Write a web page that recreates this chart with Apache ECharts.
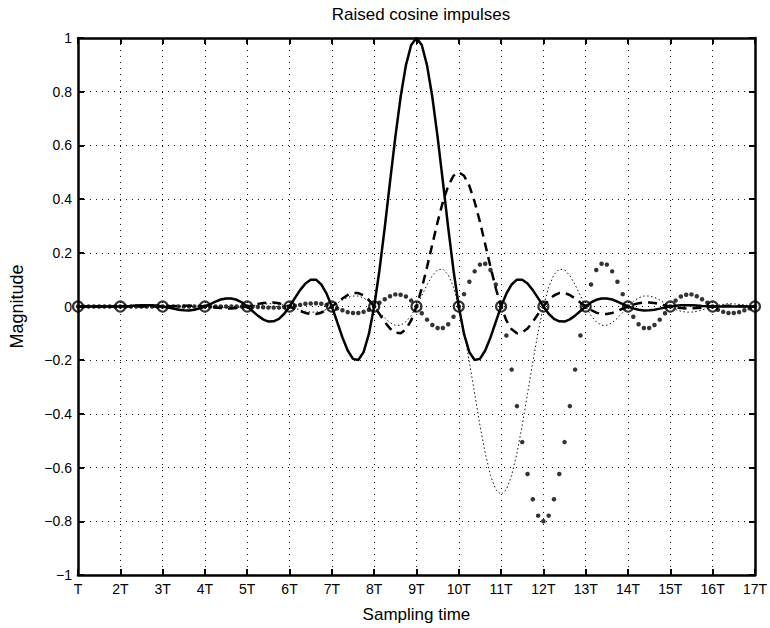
<!DOCTYPE html>
<html>
<head>
<meta charset="utf-8">
<script src="https://cdn.jsdelivr.net/npm/echarts@6/dist/echarts.min.js"></script>
<style>
html,body{margin:0;padding:0;background:#fff;}
#chart{width:770px;height:628px;}
</style>
</head>
<body>
<div id="chart"></div>
<script>
// Sampling instants (in units of T), 8 samples per symbol period
const sampleTimes = [
  1,1.125,1.25,1.375,1.5,1.625,1.75,1.875,
  2,2.125,2.25,2.375,2.5,2.625,2.75,2.875,
  3,3.125,3.25,3.375,3.5,3.625,3.75,3.875,
  4,4.125,4.25,4.375,4.5,4.625,4.75,4.875,
  5,5.125,5.25,5.375,5.5,5.625,5.75,5.875,
  6,6.125,6.25,6.375,6.5,6.625,6.75,6.875,
  7,7.125,7.25,7.375,7.5,7.625,7.75,7.875,
  8,8.125,8.25,8.375,8.5,8.625,8.75,8.875,
  9,9.125,9.25,9.375,9.5,9.625,9.75,9.875,
  10,10.125,10.25,10.375,10.5,10.625,10.75,10.875,
  11,11.125,11.25,11.375,11.5,11.625,11.75,11.875,
  12,12.125,12.25,12.375,12.5,12.625,12.75,12.875,
  13,13.125,13.25,13.375,13.5,13.625,13.75,13.875,
  14,14.125,14.25,14.375,14.5,14.625,14.75,14.875,
  15,15.125,15.25,15.375,15.5,15.625,15.75,15.875,
  16,16.125,16.25,16.375,16.5,16.625,16.75,16.875,
  17
];

// Solid pulse (peak 1 at 9T)
const pulseSolid = [
  0,0,0,0,0,0,0,0,
  0,0.001,0.002,0.004,0.005,0.005,0.005,0.003,
  0,-0.004,-0.008,-0.012,-0.014,-0.015,-0.012,-0.007,
  0,0.009,0.018,0.026,0.030,0.030,0.025,0.015,
  0,-0.017,-0.034,-0.048,-0.056,-0.055,-0.046,-0.027,
  0,0.031,0.061,0.086,0.100,0.100,0.082,0.048,
  0,-0.057,-0.115,-0.164,-0.195,-0.199,-0.170,-0.103,
  0,0.135,0.294,0.464,0.631,0.780,0.898,0.974,
  1,0.974,0.898,0.780,0.631,0.464,0.294,0.135,
  0,-0.103,-0.170,-0.199,-0.195,-0.164,-0.115,-0.057,
  0,0.048,0.082,0.100,0.100,0.086,0.061,0.031,
  0,-0.027,-0.046,-0.055,-0.056,-0.048,-0.034,-0.017,
  0,0.015,0.025,0.030,0.030,0.026,0.018,0.009,
  0,-0.007,-0.012,-0.015,-0.014,-0.012,-0.008,-0.004,
  0,0.003,0.005,0.005,0.005,0.004,0.002,0.001,
  0,0,0,0,0,0,0,0,
  0
];

// Dashed pulse (peak 0.5 at 10T)
const pulseDashed = [
  0,0,0,0,0,0,0,0,
  0,0,0,0,0,0,0,0,
  0,0.001,0.001,0.002,0.003,0.003,0.002,0.001,
  0,-0.002,-0.004,-0.006,-0.007,-0.007,-0.006,-0.004,
  0,0.004,0.009,0.013,0.015,0.015,0.012,0.007,
  0,-0.008,-0.017,-0.024,-0.028,-0.028,-0.023,-0.013,
  0,0.015,0.030,0.043,0.050,0.050,0.041,0.024,
  0,-0.028,-0.057,-0.082,-0.097,-0.100,-0.085,-0.052,
  0,0.068,0.147,0.232,0.315,0.390,0.449,0.487,
  0.5,0.487,0.449,0.390,0.315,0.232,0.147,0.068,
  0,-0.052,-0.085,-0.100,-0.097,-0.082,-0.057,-0.028,
  0,0.024,0.041,0.050,0.050,0.043,0.030,0.015,
  0,-0.013,-0.023,-0.028,-0.028,-0.024,-0.017,-0.008,
  0,0.007,0.012,0.015,0.015,0.013,0.009,0.004,
  0,-0.004,-0.006,-0.007,-0.007,-0.006,-0.004,-0.002,
  0,0.001,0.002,0.003,0.003,0.002,0.001,0.001,
  0
];

// Fine dotted pulse (peak -0.7 at 11T)
const pulseDotted = [
  0,0,0,0,0,0,0,0,
  0,0,0,0,0,0,0,0,
  0,0,0,0,0,0,0,0,
  0,-0.001,-0.001,-0.003,-0.004,-0.004,-0.004,-0.002,
  0,0.003,0.006,0.008,0.010,0.011,0.008,0.005,
  0,-0.006,-0.013,-0.018,-0.021,-0.021,-0.018,-0.011,
  0,0.012,0.024,0.034,0.039,0.039,0.032,0.019,
  0,-0.022,-0.043,-0.060,-0.070,-0.070,-0.057,-0.034,
  0,0.040,0.081,0.115,0.137,0.139,0.119,0.072,
  0,-0.095,-0.206,-0.325,-0.442,-0.546,-0.629,-0.682,
  -0.7,-0.682,-0.629,-0.546,-0.442,-0.325,-0.206,-0.095,
  0,0.072,0.119,0.139,0.137,0.115,0.081,0.040,
  0,-0.034,-0.057,-0.070,-0.070,-0.060,-0.043,-0.022,
  0,0.019,0.032,0.039,0.039,0.034,0.024,0.012,
  0,-0.011,-0.018,-0.021,-0.021,-0.018,-0.013,-0.006,
  0,0.005,0.008,0.011,0.010,0.008,0.006,0.003,
  0
];

// Point-marker pulse (peak -0.8 at 12T)
const pulsePoints = [
  0,0,0,0,0,0,0,0,
  0,0,0,0,0,0,0,0,
  0,0,0,0,0,0,0,0,
  0,0,0,0,0,0,0,0,
  0,-0.001,-0.002,-0.003,-0.004,-0.004,-0.004,-0.002,
  0,0.003,0.006,0.010,0.011,0.012,0.010,0.006,
  0,-0.007,-0.014,-0.021,-0.024,-0.024,-0.020,-0.012,
  0,0.014,0.027,0.038,0.045,0.044,0.037,0.022,
  0,-0.025,-0.049,-0.069,-0.080,-0.080,-0.066,-0.038,
  0,0.046,0.092,0.131,0.156,0.159,0.136,0.082,
  0,-0.108,-0.235,-0.371,-0.505,-0.624,-0.718,-0.779,
  -0.8,-0.779,-0.718,-0.624,-0.505,-0.371,-0.235,-0.108,
  0,0.082,0.136,0.159,0.156,0.131,0.092,0.046,
  0,-0.038,-0.066,-0.080,-0.080,-0.069,-0.049,-0.025,
  0,0.022,0.037,0.044,0.045,0.038,0.027,0.014,
  0,-0.012,-0.020,-0.024,-0.024,-0.021,-0.014,-0.007,
  0
];

// Sampling instants marked with circles
const circleTimes = [1,2,3,4,5,6,7,8,9,10,11,12,13,14,15,16,17];
const circleValues = [0,0,0,0,0,0,0,0,0,0,0,0,0,0,0,0,0];

const xTickLabels = ['T','2T','3T','4T','5T','6T','7T','8T','9T','10T','11T','12T','13T','14T','15T','16T','17T'];
const yTickLabels = ['\u22121','\u22120.8','\u22120.6','\u22120.4','\u22120.2','0','0.2','0.4','0.6','0.8','1'];

function pairs(xs, ys){ return xs.map((x,i)=>[x, ys[i]]); }

const FONT = "'Liberation Sans', Arial, Helvetica, sans-serif";
const chart = echarts.init(document.getElementById('chart'), null, {renderer:'svg'});

const axisLine = {show:true, onZero:false, lineStyle:{color:'#000', width:2.5}};
const axisTick = {show:true, inside:true, length:6, lineStyle:{color:'#000', width:2}};
const splitLine = {show:true, lineStyle:{color:'#111', width:1, type:[1,5]}};

chart.setOption({
  backgroundColor:'#fff',
  animation:false,
  title:{
    text:'Raised cosine impulses', left:416, top:1, textAlign:'center',
    textStyle:{fontFamily:FONT, fontSize:17, fontWeight:'normal', color:'#000'}
  },
  grid:{left:72, right:9, top:38, bottom:50, containLabel:false},
  xAxis:[
    {
      type:'value', position:'bottom', min:1, max:17, interval:1,
      axisLine, axisTick, splitLine,
      axisLabel:{
        show:true, color:'#000', fontFamily:FONT, fontSize:14, margin:7,
        showMinLabel:true, showMaxLabel:true, hideOverlap:false,
        formatter:(v)=>xTickLabels[Math.round(v)-1]
      },
      name:'Sampling time', nameLocation:'middle', nameGap:31,
      nameTextStyle:{fontFamily:FONT, fontSize:17, color:'#000'}
    },
    {
      type:'value', position:'top', min:1, max:17, interval:1,
      axisLine, axisTick, splitLine:{show:false}, axisLabel:{show:false}
    }
  ],
  yAxis:[
    {
      type:'value', position:'left', min:-1, max:1, interval:0.2,
      axisLine, axisTick, splitLine,
      axisLabel:{
        show:true, color:'#000', fontFamily:FONT, fontSize:14, margin:6,
        showMinLabel:true, showMaxLabel:true, hideOverlap:false,
        formatter:(v)=>yTickLabels[Math.round((v+1)/0.2)]
      },
      name:'Magnitude', nameLocation:'middle', nameGap:52,
      nameTextStyle:{fontFamily:FONT, fontSize:18, color:'#000'}
    },
    {
      type:'value', position:'right', min:-1, max:1, interval:0.2,
      axisLine, axisTick, splitLine:{show:false}, axisLabel:{show:false}
    }
  ],
  series:[
    {
      type:'line', data:pairs(sampleTimes, pulseDotted), showSymbol:false, symbol:'none',
      lineStyle:{color:'#111', width:1, type:[1.5,2.5]}, z:2
    },
    {
      type:'scatter', data:pairs(sampleTimes, pulsePoints), symbol:'circle', symbolSize:4.5,
      itemStyle:{color:'#000'}, z:3
    },
    {
      type:'line', data:pairs(sampleTimes, pulseDashed), showSymbol:false, symbol:'none',
      lineStyle:{color:'#000', width:2.5, type:[9,6]}, z:4
    },
    {
      type:'line', data:pairs(sampleTimes, pulseSolid), showSymbol:false, symbol:'none',
      lineStyle:{color:'#000', width:2.5}, z:5
    },
    {
      type:'scatter', data:pairs(circleTimes, circleValues), symbol:'circle', symbolSize:10,
      itemStyle:{color:'rgba(0,0,0,0)', borderColor:'#000', borderWidth:2.2}, z:6
    }
  ]
});
</script>
</body>
</html>
